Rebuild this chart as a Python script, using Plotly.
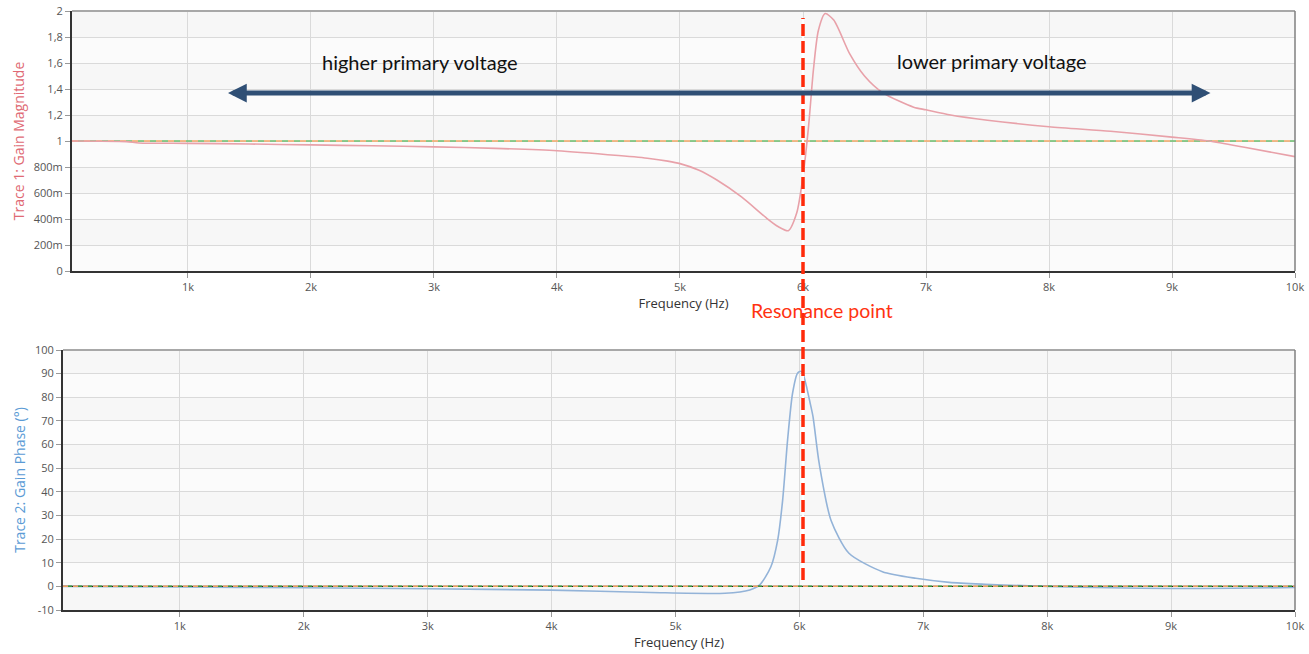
import plotly.graph_objects as go

# ---------------- data ----------------
mag_freq = [57, 500, 600, 1000, 1500, 2000, 2500, 3000, 3500, 4000, 4500, 4750, 4900, 5000,
            5150, 5300, 5500, 5700, 5800, 5880, 5950, 6000, 6045, 6085, 6125, 6180,
            6250, 6380, 6500, 6650, 6900, 7000, 7200, 7500, 8000, 8500, 9000,
            9300, 9600, 10000]
mag_vals = [1.0, 0.995, 0.985, 0.982, 0.977, 0.970, 0.963, 0.955, 0.943, 0.925,
            0.888, 0.866, 0.845, 0.826, 0.777, 0.70, 0.57, 0.41, 0.34, 0.31, 0.45, 0.73,
            1.11, 1.55, 1.85, 1.98, 1.93, 1.67, 1.50, 1.37, 1.26, 1.24, 1.20, 1.16, 1.11,
            1.075, 1.03, 1.0, 0.95, 0.88]

ph_freq = [57, 1000, 2000, 3000, 4000, 4800, 5400, 5600, 5680, 5770, 5825, 5865,
           5905, 5945, 5985, 6013, 6035, 6060, 6085, 6110, 6160, 6255, 6400, 6670, 6940,
           7210, 7500, 7800, 8000, 8500, 9000, 9500, 10000]
ph_vals = [0, -0.3, -0.6, -1.0, -1.6, -2.6, -2.9, -1.5, 0.6, 8.3, 19.6, 36.5,
           62, 81.7, 90.2, 91, 89, 84, 78, 71.8, 52, 28, 14, 6.2, 3.4, 1.7, 0.9, 0.3,
           0, -0.6, -0.9, -0.8, -0.5]

x_tickvals = [1000, 2000, 3000, 4000, 5000, 6000, 7000, 8000, 9000, 10000]
x_ticktext = ["1k", "2k", "3k", "4k", "5k", "6k", "7k", "8k", "9k", "10k"]

mag_tickvals = [0, 0.2, 0.4, 0.6, 0.8, 1.0, 1.2, 1.4, 1.6, 1.8, 2.0]
mag_ticktext = ["0", "200m", "400m", "600m", "800m", "1", "1,2", "1,4", "1,6", "1,8", "2"]

ph_tickvals = [-10, 0, 10, 20, 30, 40, 50, 60, 70, 80, 90, 100]
ph_ticktext = [str(v) for v in ph_tickvals]

x_range = [57, 10000]
mag_ref = [1.0, 1.0]
ph_ref = [0.0, 0.0]
resonance_freq = 6000

# ---------------- figure ----------------
W, H = 1309, 654
fig = go.Figure()

PINK = "#e8a1a9"
BLUE = "#93b3d8"

# reference lines (top)
fig.add_trace(go.Scatter(x=x_range, y=mag_ref, mode="lines",
                         line=dict(color="#f3a867", width=1.6, dash="6px,6px"),
                         xaxis="x", yaxis="y", hoverinfo="skip", showlegend=False))
fig.add_trace(go.Scatter(x=x_range, y=mag_ref, mode="lines",
                         line=dict(color="#6cbf6c", width=1.6, dash="0px,6px,6px,0px"),
                         xaxis="x", yaxis="y", hoverinfo="skip", showlegend=False))
fig.add_trace(go.Scatter(x=mag_freq, y=mag_vals, mode="lines",
                         line=dict(color=PINK, width=1.6, shape="spline", smoothing=0.7),
                         xaxis="x", yaxis="y", showlegend=False))

# bottom
fig.add_trace(go.Scatter(x=ph_freq, y=ph_vals, mode="lines",
                         line=dict(color=BLUE, width=1.6, shape="spline", smoothing=0.7),
                         xaxis="x2", yaxis="y2", showlegend=False))
fig.add_trace(go.Scatter(x=x_range, y=ph_ref, mode="lines",
                         line=dict(color="#222222", width=1.2),
                         xaxis="x2", yaxis="y2", hoverinfo="skip", showlegend=False))
fig.add_trace(go.Scatter(x=x_range, y=ph_ref, mode="lines",
                         line=dict(color="#f0a060", width=1.5, dash="5px,5px"),
                         xaxis="x2", yaxis="y2", hoverinfo="skip", showlegend=False))
fig.add_trace(go.Scatter(x=x_range, y=ph_ref, mode="lines",
                         line=dict(color="#3a9a3a", width=1.5, dash="0px,5px,4px,1px"),
                         xaxis="x2", yaxis="y2", hoverinfo="skip", showlegend=False))

# domains (paper coords)
top_dom_y = [1 - 271 / H, 1 - 11 / H]
bot_dom_y = [1 - 610 / H, 1 - 350 / H]
top_dom_x = [72 / W, 1295 / W]
bot_dom_x = [63 / W, 1295 / W]

tickfont = dict(family="Open Sans, sans-serif", size=11, color="#555555")
axcommon = dict(showgrid=True, gridcolor="#dadada", gridwidth=1, zeroline=False,
                showline=True, linecolor="#333333", linewidth=2,
                ticks="outside", ticklen=5, tickcolor="#999999", tickfont=tickfont)

fig.update_layout(
    width=W, height=H,
    margin=dict(l=0, r=0, t=0, b=0),
    paper_bgcolor="white",
    plot_bgcolor="#f7f7f7",
    font=dict(family="Open Sans, sans-serif"),
    xaxis=dict(domain=top_dom_x, range=x_range, anchor="y",
               tickvals=x_tickvals, ticktext=x_ticktext,
               title=dict(text="Frequency (Hz)", standoff=6,
                          font=dict(size=13, color="#333333")),
               automargin=False, **axcommon),
    yaxis=dict(domain=top_dom_y, range=[0, 2], anchor="x",
               tickvals=mag_tickvals, ticktext=mag_ticktext,
               title=dict(text="Trace 1: Gain Magnitude", standoff=6,
                          font=dict(size=14, color="#e06a74")),
               automargin=False, **axcommon),
    xaxis2=dict(domain=bot_dom_x, range=x_range, anchor="y2",
                tickvals=x_tickvals, ticktext=x_ticktext,
                title=dict(text="Frequency (Hz)", standoff=6,
                           font=dict(size=13, color="#333333")),
                automargin=False, **axcommon),
    yaxis2=dict(domain=bot_dom_y, range=[-10, 100], anchor="x2",
                tickvals=ph_tickvals, ticktext=ph_ticktext,
                title=dict(text="Trace 2: Gain Phase (°)", standoff=6,
                           font=dict(size=14, color="#5b9bd5")),
                automargin=False, **axcommon),
)

shapes = []
# alternating bands
for i in range(0, len(mag_tickvals) - 1, 2):
    shapes.append(dict(type="rect", xref="x", yref="y", x0=x_range[0], x1=x_range[1],
                       y0=mag_tickvals[i], y1=mag_tickvals[i + 1],
                       fillcolor="#fbfbfb", line=dict(width=0), layer="below"))
for i in range(1, len(ph_tickvals) - 1, 2):
    shapes.append(dict(type="rect", xref="x2", yref="y2", x0=x_range[0], x1=x_range[1],
                       y0=ph_tickvals[i], y1=ph_tickvals[i + 1],
                       fillcolor="#fbfbfb", line=dict(width=0), layer="below"))
# top/right frame lines
for xr, yr in [("x domain", "y domain"), ("x2 domain", "y2 domain")]:
    shapes.append(dict(type="line", xref=xr, yref=yr, x0=0, x1=1, y0=1, y1=1,
                       line=dict(color="#a8a8a8", width=2)))
    shapes.append(dict(type="line", xref=xr, yref=yr, x0=1, x1=1, y0=0, y1=1,
                       line=dict(color="#808080", width=1.5)))
# resonance line
shapes.append(dict(type="line", xref="x", yref="paper", x0=resonance_freq, x1=resonance_freq,
                   y0=1 - 580 / H, y1=1 - 18 / H, line=dict(color="white", width=2)))
shapes.append(dict(type="line", xref="x", yref="paper", x0=resonance_freq, x1=resonance_freq,
                   y0=1 - 580 / H, y1=1 - 18 / H,
                   line=dict(color="#ff2a0a", width=3.5, dash="12px,5px")))
fig.update_layout(shapes=shapes)

annotations = [
    dict(x=1325, y=1.369, ax=9325, ay=1.369, xref="x", yref="y", axref="x", ayref="y",
         text="", showarrow=True, arrowhead=2, arrowside="end+start",
         arrowsize=0.75, arrowwidth=5, arrowcolor="#2f4f75"),
    dict(x=420 / W, y=1 - 62 / H, xref="paper", yref="paper", text="higher primary voltage",
         xanchor="center", yanchor="middle",
         showarrow=False, font=dict(family="Lato, sans-serif", size=20, color="#111111")),
    dict(x=991 / W, y=1 - 61 / H, xref="paper", yref="paper", text="lower primary voltage",
         xanchor="center", yanchor="middle",
         showarrow=False, font=dict(family="Lato, sans-serif", size=20, color="#111111")),
    dict(x=822 / W, y=1 - 310 / H, xref="paper", yref="paper", text="Resonance point",
         xanchor="center", yanchor="middle",
         showarrow=False, font=dict(family="Lato, sans-serif", size=19.5, color="#ff3311")),
]
fig.update_layout(annotations=annotations)

fig.write_html("out.html", config={"displayModeBar": False},
               post_script="document.body.style.margin='0';document.body.style.overflow='hidden';")
